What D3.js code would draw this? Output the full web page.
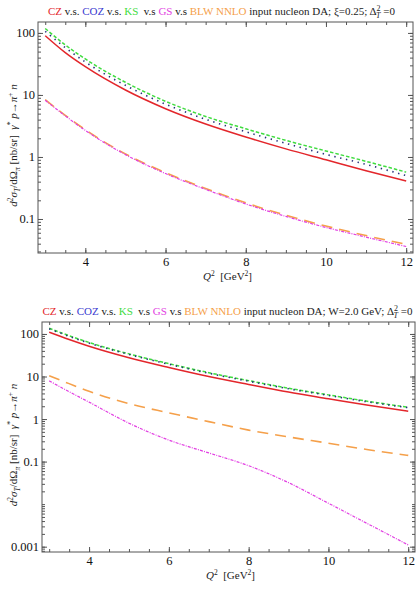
<!DOCTYPE html>
<html>
<head>
<meta charset="utf-8">
<script src="https://cdn.jsdelivr.net/npm/d3@7"></script>
<style>
  body { margin: 0; background: #fff; }
  svg { font-family: "Liberation Serif", "Times New Roman", serif; }
  svg text { white-space: pre; }
</style>
</head>
<body>
<div id="chart"></div>
<script>
const q2 = [3, 3.5, 4, 5, 6, 7, 8, 9, 10, 11, 12];

// panel 1: xi = 0.25
const czXi   = [90, 48, 28.5, 12, 6.0, 3.4, 2.1, 1.35, 0.9, 0.6, 0.41];
const cozXi  = [106, 58, 34, 14.3, 7.1, 4.05, 2.55, 1.66, 1.1, 0.76, 0.5];
const ksXi   = [118, 64, 38, 16, 7.9, 4.5, 2.85, 1.85, 1.25, 0.85, 0.57];
const gsXi   = [8.2, 4.6, 2.68, 1.09, 0.54, 0.30, 0.175, 0.11, 0.073, 0.051, 0.036];
const blwXi  = [8.4, 4.7, 2.75, 1.12, 0.56, 0.31, 0.182, 0.115, 0.077, 0.054, 0.039];

// panel 2: W = 2.0 GeV
const czW    = [110, 74, 51.4, 27.6, 16.3, 10.0, 6.5, 4.3, 3.0, 2.1, 1.53];
const cozW   = [132, 88, 61, 33, 19.4, 11.9, 7.75, 5.15, 3.6, 2.52, 1.85];
const ksW    = [136, 91, 63, 34, 20, 12.3, 8.0, 5.3, 3.7, 2.6, 1.9];
const gsW    = [7.9, 4.4, 2.5, 0.8, 0.32, 0.16, 0.08, 0.032, 0.0105, 0.0034, 0.0011];
const blwW   = [10.4, 6.8, 4.5, 2.3, 1.4, 0.87, 0.55, 0.38, 0.27, 0.19, 0.14];

const xTicks = [4, 6, 8, 10, 12];
const yTicksXi = [0.1, 1, 10, 100];
const yTicksW = [0.001, 0.1, 1, 10, 100];

const serif = '"Liberation Serif", "Times New Roman", serif';

const styles = {
    cz:  { color: '#e3262b', dash: null, width: 1.5 },
    cos: { color: '#26307a', dash: '1.4,4.6', width: 1.6 },
    ks:  { color: '#3fdc3f', dash: '3.5,2', width: 1.5 },
    gs:  { color: '#e23ee2', dash: '3,1.2,1,1.2', width: 1.2 },
    blw: { color: '#f5a04a', dash: '11,7', width: 1.6 }
};

const W = 419, H = 592;
const svg = d3.select('#chart').append('svg').attr('width', W).attr('height', H);

class Panel {
    constructor(opts) {
        this.box = opts.box;          // left, top, right, bottom
        this.yDomain = opts.yDomain;
        this.yTicks = opts.yTicks;
        this.series = opts.series;
        this.title = opts.title;
        this.g = svg.append('g');
        this.draw();
    }

    draw() {
        const b = this.box;
        this.x = d3.scaleLinear().domain([2.82, 12.17]).range([b.left, b.right]);
        this.y = d3.scaleLog().domain(this.yDomain).range([b.bottom, b.top]);
        this.addAxes();
        this.addLines();
        this.addLabels();
    }

    addAxes() {
        const b = this.box, g = this.g;
        const xMinor = d3.range(3, 12.01, 0.5);
        const yMinor = [];
        const lo = Math.floor(Math.log10(this.yDomain[0])), hi = Math.ceil(Math.log10(this.yDomain[1]));
        for (let k = lo; k <= hi; k++) {
            for (let m = 1; m <= 9; m++) {
                const v = m * Math.pow(10, k);
                if (v >= this.yDomain[0] && v <= this.yDomain[1]) yMinor.push(v);
            }
        }
        const fmt = d => (d >= 1 ? d3.format('d')(d) : String(d));

        const put = (axis, tr) => {
            const a = g.append('g').attr('transform', tr).call(axis)
                .attr('font-family', serif);
            a.select('.domain').remove();
            a.selectAll('line').attr('stroke', '#555');
            a.selectAll('text').attr('fill', '#111').style('font-size', '12.5px')
                .style('font-family', serif);
            return a;
        };
        // bottom / top
        put(d3.axisBottom(this.x).tickValues(xMinor).tickSize(-3).tickFormat(''), `translate(0,${b.bottom})`);
        put(d3.axisBottom(this.x).tickValues(xTicks).tickSize(-5).tickPadding(4).tickFormat(d3.format('d')), `translate(0,${b.bottom})`);
        put(d3.axisTop(this.x).tickValues(xMinor).tickSize(-3).tickFormat(''), `translate(0,${b.top})`);
        put(d3.axisTop(this.x).tickValues(xTicks).tickSize(-5).tickFormat(''), `translate(0,${b.top})`);
        // left / right
        put(d3.axisLeft(this.y).tickValues(yMinor).tickSize(-3).tickFormat(''), `translate(${b.left},0)`);
        put(d3.axisLeft(this.y).tickValues(this.yTicks).tickSize(-5).tickPadding(3).tickFormat(fmt), `translate(${b.left},0)`);
        put(d3.axisRight(this.y).tickValues(yMinor).tickSize(-3).tickFormat(''), `translate(${b.right},0)`);
        put(d3.axisRight(this.y).tickValues(this.yTicks).tickSize(-5).tickFormat(''), `translate(${b.right},0)`);

        // frame
        g.append('rect')
            .attr('x', b.left).attr('y', b.top)
            .attr('width', b.right - b.left).attr('height', b.bottom - b.top)
            .attr('fill', 'none').attr('stroke', '#555').attr('stroke-width', 1);
    }

    addLines() {
        const that = this;
        const line = d3.line()
            .x(d => that.x(d[0]))
            .y(d => that.y(d[1]))
            .curve(d3.curveMonotoneX);
        const clipId = 'clip' + Math.round(this.box.top);
        this.g.append('clipPath').attr('id', clipId).append('rect')
            .attr('x', this.box.left).attr('y', this.box.top)
            .attr('width', this.box.right - this.box.left).attr('height', this.box.bottom - this.box.top);
        const lines = this.g.append('g').attr('clip-path', `url(#${clipId})`);
        this.series.forEach(s => {
            const st = styles[s.key];
            lines.append('path')
                .datum(q2.map((q, i) => [q, s.values[i]]))
                .attr('d', line)
                .attr('fill', 'none')
                .attr('stroke', st.color)
                .attr('stroke-width', st.width)
                .attr('stroke-dasharray', st.dash);
        });
    }

    addLabels() {
        const b = this.box, g = this.g;
        // title
        const t = g.append('text')
            .attr('x', (b.left + b.right) / 2 + this.title.dx)
            .attr('y', b.top - 7)
            .attr('text-anchor', 'middle')
            .style('font-size', '11px')
            .attr('fill', '#222');
        const parts = [
            ['CZ', styles.cz.color], [' v.s. ', null], ['COZ', '#3a3ad0'], [' v.s. ', null],
            ['KS', styles.ks.color], ['  v.s ', null], ['GS', styles.gs.color], [' v.s ', null],
            ['BLW NNLO', styles.blw.color], [' input nucleon DA; ' + this.title.text + '; Δ', null]
        ];
        parts.forEach(p => t.append('tspan').text(p[0]).attr('fill', p[1] || '#222'));
        t.append('tspan').text('2').attr('dy', -4).style('font-size', '8px');
        t.append('tspan').text('T').attr('dx', -4.5).attr('dy', 7).style('font-size', '8px').style('font-style', 'italic');
        t.append('tspan').text(' =0').attr('dy', -3);

        // x label
        const xl = g.append('text')
            .attr('x', (b.left + b.right) / 2 + 2)
            .attr('y', b.bottom + 27)
            .attr('text-anchor', 'middle')
            .style('font-size', '11px')
            .attr('fill', '#222');
        xl.append('tspan').text('Q').style('font-style', 'italic');
        xl.append('tspan').text('2').attr('dy', -4).style('font-size', '7.5px');
        xl.append('tspan').text('  [GeV').attr('dy', 4);
        xl.append('tspan').text('2').attr('dy', -4).style('font-size', '7.5px');
        xl.append('tspan').text(']').attr('dy', 4);

        // y label
        const cy = (b.top + b.bottom) / 2 + 8;
        const yl = g.append('text')
            .attr('transform', `translate(17,${cy}) rotate(-90)`)
            .attr('text-anchor', 'middle')
            .style('font-size', '11px')
            .attr('fill', '#222');
        const it = s => yl.append('tspan').text(s).style('font-style', 'italic');
        const sup = s => yl.append('tspan').text(s).attr('dy', -4).style('font-size', '7.5px');
        const sub = s => yl.append('tspan').text(s).attr('dy', 3).style('font-size', '7.5px').style('font-style', 'italic');
        const back = (s, dy) => yl.append('tspan').text(s).attr('dy', dy);
        it('d'); sup('2'); it('σ').attr('dy', 4); sub('T');
        back('/dΩ', -3); sub('π'); back(' [nb/sr]  ', -3);
        it('γ'); sup('*'); it(' p').attr('dy', 4); back('→', 0); it('π'); sup('+');
        it(' n').attr('dy', 4);
    }
}

new Panel({
    box: { left: 38, top: 22, right: 413, bottom: 253 },
    yDomain: [0.0283, 150],
    yTicks: yTicksXi,
    title: { text: 'ξ=0.25', dx: -4 },
    series: [
        { key: 'cz', values: czXi },
        { key: 'ks', values: ksXi },
        { key: 'cos', values: cozXi },
        { key: 'blw', values: blwXi },
        { key: 'gs', values: gsXi }
    ]
});

new Panel({
    box: { left: 42, top: 322, right: 415, bottom: 552 },
    yDomain: [0.00075, 191],
    yTicks: yTicksW,
    title: { text: 'W=2.0 GeV', dx: -1 },
    series: [
        { key: 'cz', values: czW },
        { key: 'ks', values: ksW },
        { key: 'cos', values: cozW },
        { key: 'blw', values: blwW },
        { key: 'gs', values: gsW }
    ]
});
</script>
</body>
</html>
